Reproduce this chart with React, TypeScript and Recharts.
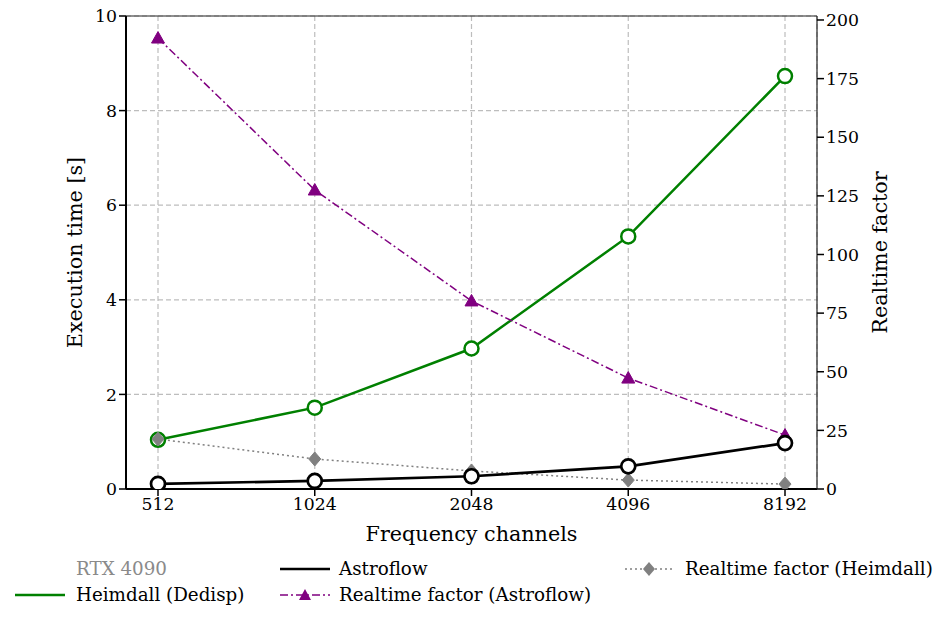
import React from 'react';
import { ComposedChart, Line, XAxis, YAxis, CartesianGrid, ReferenceLine } from 'recharts';

const channels = ['512', '1024', '2048', '4096', '8192'];
const heimdall = [1.04, 1.72, 2.97, 5.34, 8.73];
const astroflow = [0.11, 0.17, 0.27, 0.48, 0.97];
const rtAstroflow = [192.3, 127.5, 80.2, 47.3, 23.0];
const rtHeimdall = [21.3, 12.8, 7.7, 3.8, 2.1];
const leftTicks = [0, 2, 4, 6, 8, 10];
const rightTicks = [0, 25, 50, 75, 100, 125, 150, 175, 200];

const data = channels.map((c, i) => ({
  ch: c,
  heimdall: heimdall[i],
  astroflow: astroflow[i],
  rtAstroflow: rtAstroflow[i],
  rtHeimdall: rtHeimdall[i],
}));

const FONT = 'DejaVu Serif, serif';
const GREEN = '#008000';
const PURPLE = '#800080';
const GRAY = '#808080';

const Triangle = (props: any) => {
  const { cx, cy } = props;
  if (cx == null || cy == null) return null;
  return <polygon points={`${cx},${cy - 6.5} ${cx - 6.5},${cy + 5} ${cx + 6.5},${cy + 5}`} fill={PURPLE} stroke={PURPLE} strokeWidth={1} />;
};

const Diamond = (props: any) => {
  const { cx, cy } = props;
  if (cx == null || cy == null) return null;
  return <polygon points={`${cx},${cy - 7} ${cx + 6},${cy} ${cx},${cy + 7} ${cx - 6},${cy}`} fill={GRAY} stroke={GRAY} strokeWidth={1} />;
};

const tickStyle = { fill: '#000', fontSize: 17.3, fontFamily: FONT };

const LegendItem = ({ x, y, children, icon }: any) => (
  <div style={{ position: 'absolute', left: x, top: y, display: 'flex', alignItems: 'center', whiteSpace: 'nowrap' }}>
    {icon}
    {children}
  </div>
);

export default function App() {
  return (
    <div style={{ position: 'absolute', left: 0, top: 0, width: 947, height: 623, background: '#fff', fontFamily: FONT }}>
      <ComposedChart width={947} height={623} data={data} margin={{ top: 16, right: 70, bottom: 104, left: 66 }}>
        <CartesianGrid yAxisId="left" stroke="#bdbdbd" strokeDasharray="5 3" strokeWidth={1.2} vertical horizontal />
        <XAxis
          dataKey="ch"
          type="category"
          scale="point"
          padding={{ left: 32, right: 32 }}
          height={30}
          tick={tickStyle}
          tickSize={7}
          tickLine={{ stroke: '#000', strokeWidth: 1.5 }}
          axisLine={{ stroke: '#000', strokeWidth: 2 }}
          label={{
            content: (p: any) => {
              const vb = p.viewBox || {};
              return (
                <text x={vb.x + vb.width / 2} y={541} textAnchor="middle" fontSize={20.7} fontFamily={FONT} fill="#000">
                  Frequency channels
                </text>
              );
            },
          }}
        />
        <YAxis
          yAxisId="left"
          orientation="left"
          width={60}
          domain={[0, 10]}
          ticks={leftTicks}
          allowDataOverflow
          tick={tickStyle}
          tickSize={7}
          tickLine={{ stroke: '#000', strokeWidth: 1.5 }}
          axisLine={{ stroke: '#000', strokeWidth: 2 }}
          label={{
            content: (p: any) => {
              const vb = p.viewBox || {};
              const cy = vb.y + vb.height / 2;
              return (
                <text x={82} y={cy} transform={`rotate(-90 82 ${cy})`} textAnchor="middle" fontSize={20.7} fontFamily={FONT} fill="#000">
                  Execution time [s]
                </text>
              );
            },
          }}
        />
        <YAxis
          yAxisId="right"
          orientation="right"
          width={60}
          domain={[0, 201.7]}
          ticks={rightTicks}
          allowDataOverflow
          tick={tickStyle}
          tickSize={7}
          tickLine={{ stroke: '#000', strokeWidth: 1.5 }}
          axisLine={{ stroke: '#222', strokeWidth: 1.2 }}
          label={{
            content: (p: any) => {
              const vb = p.viewBox || {};
              const cy = vb.y + vb.height / 2;
              return (
                <text x={887} y={cy} transform={`rotate(-90 887 ${cy})`} textAnchor="middle" fontSize={20.7} fontFamily={FONT} fill="#000">
                  Realtime factor
                </text>
              );
            },
          }}
        />
        <ReferenceLine yAxisId="left" y={10} stroke="#222" strokeWidth={1.2} />
        <Line
          yAxisId="left"
          dataKey="heimdall"
          stroke={GREEN}
          strokeWidth={2.5}
          dot={{ r: 7, fill: '#fff', stroke: GREEN, strokeWidth: 2.5 }}
          isAnimationActive={false}
        />
        <Line
          yAxisId="right"
          dataKey="rtHeimdall"
          stroke={GRAY}
          strokeWidth={1.5}
          strokeDasharray="2 3"
          dot={<Diamond />}
          isAnimationActive={false}
        />
        <Line
          yAxisId="right"
          dataKey="rtAstroflow"
          stroke={PURPLE}
          strokeWidth={1.5}
          strokeDasharray="8 3 2 3"
          dot={<Triangle />}
          isAnimationActive={false}
        />
        <Line
          yAxisId="left"
          dataKey="astroflow"
          stroke="#000"
          strokeWidth={2.7}
          dot={{ r: 7, fill: '#fff', stroke: '#000', strokeWidth: 2.7 }}
          isAnimationActive={false}
        />
      </ComposedChart>
      <div style={{ position: 'absolute', left: 0, top: 0, fontSize: 18.3, fontFamily: FONT, color: '#000' }}>
        <LegendItem x={76} y={558}>
          <span style={{ color: '#8a8a8a' }}>RTX 4090</span>
        </LegendItem>
        <LegendItem
          x={15}
          y={584}
          icon={
            <svg width={61} height={12} style={{ marginRight: 0 }}>
              <line x1={0} y1={6} x2={50} y2={6} stroke={GREEN} strokeWidth={2.5} />
            </svg>
          }
        >
          Heimdall (Dedisp)
        </LegendItem>
        <LegendItem
          x={280}
          y={558}
          icon={
            <svg width={59} height={12}>
              <line x1={0} y1={6} x2={50} y2={6} stroke="#000" strokeWidth={2.7} />
            </svg>
          }
        >
          Astroflow
        </LegendItem>
        <LegendItem
          x={280}
          y={584}
          icon={
            <svg width={59} height={16}>
              <line x1={0} y1={8} x2={50} y2={8} stroke={PURPLE} strokeWidth={1.5} strokeDasharray="8 3 2 3" />
              <polygon points="25,2 19,13 31,13" fill={PURPLE} />
            </svg>
          }
        >
          Realtime factor (Astroflow)
        </LegendItem>
        <LegendItem
          x={625}
          y={558}
          icon={
            <svg width={60} height={16}>
              <line x1={0} y1={8} x2={48} y2={8} stroke={GRAY} strokeWidth={1.5} strokeDasharray="2 3" />
              <polygon points="24,1 30,8 24,15 18,8" fill={GRAY} />
            </svg>
          }
        >
          Realtime factor (Heimdall)
        </LegendItem>
      </div>
    </div>
  );
}
